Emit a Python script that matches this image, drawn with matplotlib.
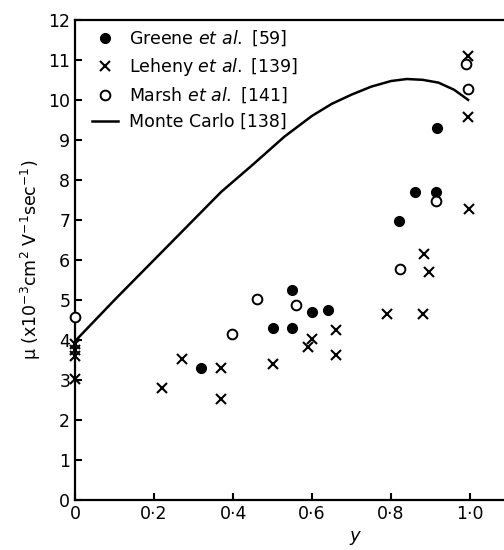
import matplotlib
matplotlib.use("Agg")
import matplotlib.pyplot as plt

# Greene et al. [59] (filled circles)
greene_x = [0.32, 0.50, 0.55, 0.55, 0.60, 0.64, 0.82, 0.86, 0.915, 0.917]
greene_y = [3.30, 4.30, 4.30, 5.25, 4.70, 4.75, 6.98, 7.70, 7.70, 9.30]

# Leheny et al. [139] (crosses)
leheny_x = [0.0, 0.0, 0.0, 0.0, 0.22, 0.27, 0.37, 0.37, 0.50, 0.59, 0.60,
            0.66, 0.66, 0.79, 0.88, 0.884, 0.896, 0.998, 0.996, 0.996]
leheny_y = [3.90, 3.75, 3.60, 3.02, 2.80, 3.52, 3.30, 2.52, 3.40, 3.83, 4.02,
            4.25, 3.62, 4.65, 4.65, 6.15, 5.70, 7.28, 9.57, 11.1]

# Marsh et al. [141] (open circles)
marsh_x = [0.0, 0.397, 0.461, 0.559, 0.822, 0.915, 0.996, 0.99]
marsh_y = [4.58, 4.15, 5.02, 4.87, 5.78, 7.47, 10.27, 10.9]

# Monte Carlo [138]
mc_x = [0.0, 0.1, 0.2, 0.3, 0.37, 0.45, 0.53, 0.6, 0.65, 0.7, 0.75,
        0.8, 0.84, 0.88, 0.92, 0.96, 0.995]
mc_y = [3.97, 5.0, 6.0, 7.0, 7.7, 8.38, 9.08, 9.6, 9.9, 10.13, 10.33,
        10.47, 10.52, 10.5, 10.43, 10.25, 10.0]

xticks = [0, 0.2, 0.4, 0.6, 0.8, 1.0]
xticklabels = ["0", "0\u00b72", "0\u00b74", "0\u00b76", "0\u00b78", "1\u00b70"]
yticks = list(range(0, 13))

plt.rcParams['font.family'] = ['DejaVu Sans']
plt.rcParams['mathtext.fontset'] = 'dejavusans'

fig = plt.figure(figsize=(5.04, 5.5), dpi=100)
ax = fig.add_axes([0.149, 0.091, 0.851, 0.873])

ax.plot(greene_x, greene_y, 'o', color='black', markersize=7,
        linestyle='none', label=r'Greene $\it{et\ al.}$ [59]', clip_on=False, zorder=3)
ax.plot(leheny_x, leheny_y, 'x', color='black', markersize=7, markeredgewidth=1.5,
        linestyle='none', label=r'Leheny $\it{et\ al.}$ [139]', clip_on=False, zorder=3)
ax.plot(marsh_x, marsh_y, 'o', markerfacecolor='white', markeredgecolor='black',
        markersize=7, markeredgewidth=1.4, linestyle='none',
        label=r'Marsh $\it{et\ al.}$ [141]', clip_on=False, zorder=3)
ax.plot(mc_x, mc_y, '-', color='black', linewidth=1.8, label='Monte Carlo [138]')

ax.set_xlim(0, 1.086)
ax.set_ylim(0, 12)
ax.set_xticks(xticks)
ax.set_xticklabels(xticklabels)
ax.set_yticks(yticks)
ax.tick_params(direction='in', length=5, width=1.5, labelsize=12.5,
               top=False, right=False)
for side in ['left', 'bottom', 'top']:
    ax.spines[side].set_linewidth(1.6)
ax.spines['right'].set_visible(False)

ax.set_ylabel('\u03bc (x10$^{-3}$cm$^2$ V$^{-1}$sec$^{-1}$)', fontsize=12.5)
ax.yaxis.set_label_coords(-0.075, 0.5)
ax.set_xlabel(r'$\it{y}$', fontsize=13)
ax.xaxis.set_label_coords(0.655, -0.06)

leg = ax.legend(loc='upper left', frameon=False, fontsize=12.5, handlelength=1.5,
                handletextpad=0.6, labelspacing=0.45, borderaxespad=0.1,
                bbox_to_anchor=(0.02, 1.0))

fig.savefig('out.png', dpi=100)
